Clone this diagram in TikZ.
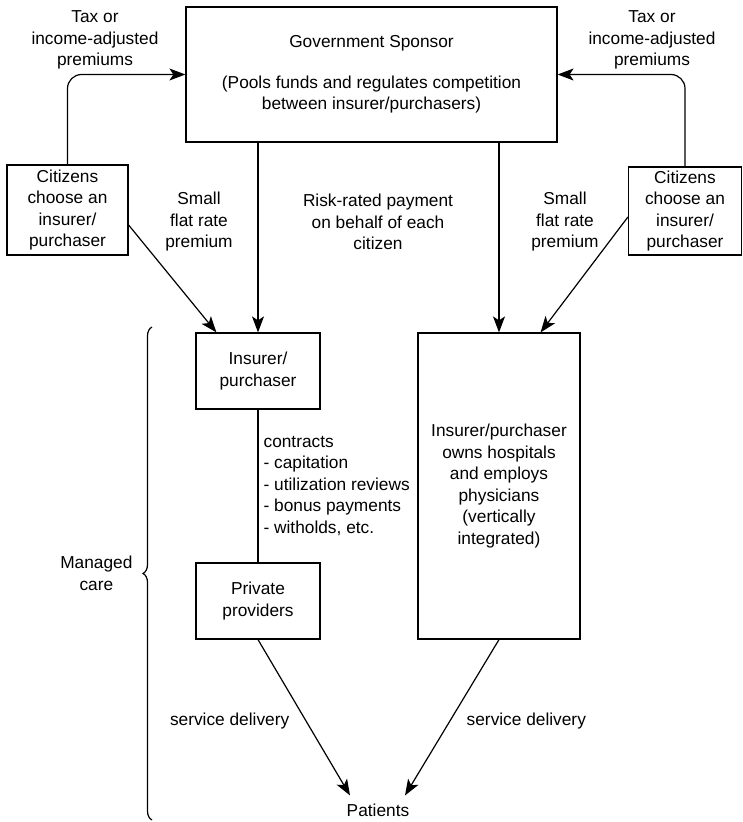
\documentclass[tikz,border=0pt]{standalone}
\usepackage{fontspec}
\setmainfont{Liberation Sans}
\usepackage{tikz}
\usetikzlibrary{shapes,arrows,arrows.meta,decorations.pathreplacing,positioning}
\tikzstyle{line} = [draw, -{Stealth[length=16pt,width=12pt,inset=4pt]}, line width=1.2pt]
\tikzstyle{plain} = [draw, line width=1.2pt]

\begin{document}
\begin{tikzpicture}[x=1pt,y=-1pt,font=\fontsize{17.3}{21.5}\selectfont]
\tikzstyle{box} = [draw, line width=1.2pt, align=center, inner sep=2pt]
\tikzstyle{ann} = [draw=none,fill=none,align=center,inner sep=2pt]
\useasboundingbox (0,0) rectangle (742,822);
% boxes
\node[box,minimum width=371pt,minimum height=135pt] (gov) at (371.5,74.5)
  {Government Sponsor\\[19pt](Pools funds and regulates competition\\between insurer/purchasers)};
\node[box,minimum width=121pt,minimum height=90pt] (citl) at (67.5,210)
  {Citizens\\choose an\\insurer/\\purchaser};
\node[box,minimum width=113pt,minimum height=88pt] (citr) at (685,211)
  {Citizens\\choose an\\insurer/\\purchaser};
\node[box,minimum width=124pt,minimum height=76pt] (ins) at (258,371)
  {Insurer/\\purchaser};
\node[box,minimum width=124pt,minimum height=76pt] (prov) at (258,601)
  {Private\\providers};
\node[box,minimum width=162pt,minimum height=306pt] (vert) at (499,486)
  {Insurer/purchaser\\owns hospitals\\and employs\\physicians\\(vertically\\integrated)};
\node[ann,inner sep=8pt] (pat) at (378,810) {Patients};
% labels
\node[ann] (taxl) at (95,40) {Tax or\\income-adjusted\\premiums};
\node[ann] (taxr) at (652,40) {Tax or\\income-adjusted\\premiums};
\node[ann] (flatl) at (199,222) {Small\\flat rate\\premium};
\node[ann] (flatr) at (565,222) {Small\\flat rate\\premium};
\node[ann] (risk) at (378,222) {Risk-rated payment\\on behalf of each\\citizen};
% connectors
\path [line, rounded corners=14pt] (citl.north) |- (gov.west);
\path [line, rounded corners=14pt] (citr.north) |- (gov.east);
\path [line] (ins.north |- gov.south) -- (ins.north);
\path [line] (vert.north |- gov.south) -- (vert.north);
\path [line] ([yshift=-15pt]citl.east) -- ([xshift=21pt]ins.north west);
\path [line] ([yshift=-6pt]citr.west) -- ([xshift=-40pt]vert.north east);
\path [plain] (ins.south) -- (prov.north)
  node[ann, right=3pt, midway, align=left] {contracts\\- capitation\\- utilization reviews\\- bonus payments\\- witholds, etc.};
\path [line] (prov.south) -- ([xshift=-28pt]pat.north)
  node[ann, left=14pt, pos=0.52] {service delivery};
\path [line] (vert.south) -- ([xshift=27pt]pat.north)
  node[ann, right=14pt, pos=0.52] {service delivery};
% brace
\draw[line width=1.2pt, decorate, decoration={brace, amplitude=9pt}] (152,820) -- (152,327)
  node[ann, midway, left=17pt] {Managed\\care};
\end{tikzpicture}
\end{document}
